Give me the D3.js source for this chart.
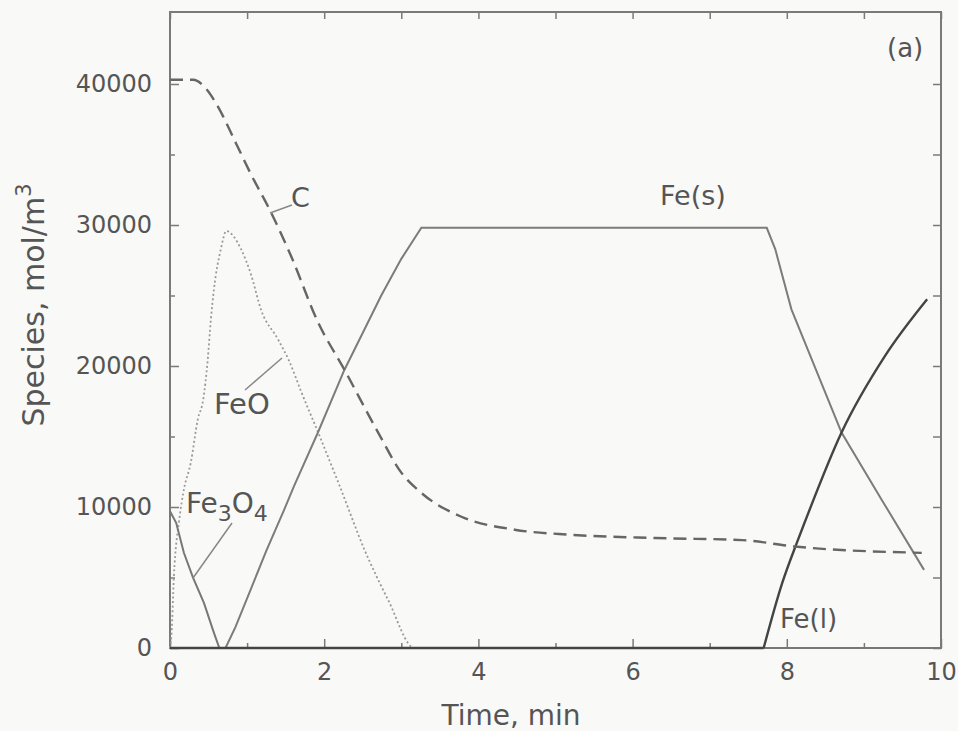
<!DOCTYPE html>
<html>
<head>
<meta charset="utf-8">
<script src="https://cdn.jsdelivr.net/npm/d3@7"></script>
<style>
  html, body { margin: 0; padding: 0; background: #f9f9f8; }
  svg { display: block; }
  text { font-family: "DejaVu Sans", sans-serif; fill: #555; }
</style>
</head>
<body>
<svg id="chart" width="958" height="731"></svg>
<script>
// ---- data ----
const xMajorTicks = [0, 2, 4, 6, 8, 10];
const xMinorTicks = [1, 3, 5, 7, 9];
const yMajorTicks = [0, 10000, 20000, 30000, 40000];
const yMinorTicks = [5000, 15000, 25000, 35000];

const cTime   = [0, 0.3, 0.47, 0.6, 0.86, 1.05, 1.31, 1.57, 1.92, 2.26, 2.7, 3.0, 3.26, 3.78, 4.47, 5.2, 6.3, 7.42, 8.1, 9.75];
const cValues = [40300, 40300, 39650, 38600, 35750, 33600, 30900, 27800, 23100, 19760, 15280, 12440, 11000, 9310, 8390, 8030, 7800, 7650, 7200, 6750];

const feoTime   = [0, 0.02, 0.05, 0.12, 0.18, 0.27, 0.36, 0.43, 0.49, 0.53, 0.57, 0.66, 0.73, 0.92, 1.05, 1.18, 1.4, 1.55, 1.7, 1.92, 2.2, 2.52, 2.83, 3.17, 10];
const feoValues = [0, 1000, 5000, 9100, 11230, 13150, 16200, 17600, 20470, 23300, 25440, 28300, 29570, 28300, 26500, 24000, 21900, 20300, 18200, 15300, 11500, 7000, 3400, 0, 0];

const fe3o4Time   = [0, 0.08, 0.18, 0.3, 0.44, 0.57, 0.64, 10];
const fe3o4Values = [9700, 8880, 6750, 4975, 3200, 1070, 0, 0];

const fesTime   = [0, 0.72, 0.85, 1.05, 1.25, 1.48, 1.61, 1.92, 2.26, 2.74, 3.0, 3.26, 7.74, 7.85, 8.06, 8.71, 9.23, 9.78];
const fesValues = [0, 0, 1500, 4200, 6900, 9800, 11500, 15300, 19700, 25000, 27600, 29800, 29800, 28290, 24020, 15280, 10520, 5540];

const felTime   = [0, 7.7, 7.94, 8.13, 8.23, 8.71, 9.27, 9.82];
const felValues = [0, 0, 4600, 7460, 8880, 15280, 20680, 24730];

// ---- layout ----
const svg = d3.select("#chart");
const mLeft = 170, mRight = 941, mTop = 12, mBottom = 648;
const x = d3.scaleLinear().domain([0, 10]).range([mLeft, mRight]);
const y = d3.scaleLinear().domain([0, 45000]).range([mBottom, mBottom - 45000 * 0.0141]);

// axes with inward ticks
const axisColor = "#7a7a7a";
function styleAxis(g) {
  g.select(".domain").remove();
  g.selectAll(".tick line").attr("stroke", axisColor).attr("stroke-width", 1.5);
  g.selectAll(".tick text").style("font-size", "24px").attr("fill", "#555");
}
svg.append("g").attr("transform", `translate(0,${mBottom})`)
  .call(d3.axisBottom(x).tickValues(xMajorTicks).tickSize(-9).tickPadding(15).tickFormat(d3.format("d")))
  .call(styleAxis);
svg.append("g").attr("transform", `translate(0,${mBottom})`)
  .call(d3.axisBottom(x).tickValues(xMinorTicks).tickSize(-5).tickFormat(""))
  .call(styleAxis);
svg.append("g").attr("transform", `translate(0,${mTop})`)
  .call(d3.axisTop(x).tickValues(xMajorTicks.concat(xMinorTicks)).tickSize(-7).tickFormat(""))
  .call(styleAxis);
svg.append("g").attr("transform", `translate(${mLeft},0)`)
  .call(d3.axisLeft(y).tickValues(yMajorTicks).tickSize(-9).tickPadding(18).tickFormat(d3.format("d")))
  .call(styleAxis);
svg.append("g").attr("transform", `translate(${mLeft},0)`)
  .call(d3.axisLeft(y).tickValues(yMinorTicks).tickSize(-5).tickFormat(""))
  .call(styleAxis);
svg.append("g").attr("transform", `translate(${mRight},0)`)
  .call(d3.axisRight(y).tickValues(yMajorTicks.concat(yMinorTicks)).tickSize(-8).tickFormat(""))
  .call(styleAxis);

// frame
svg.append("rect").attr("x", mLeft).attr("y", mTop)
  .attr("width", mRight - mLeft).attr("height", mBottom - mTop)
  .attr("fill", "none").attr("stroke", axisColor).attr("stroke-width", 2);

// curves
const linear = d3.line().x(d => x(d[0])).y(d => y(d[1]));
const smooth = d3.line().curve(d3.curveMonotoneX).x(d => x(d[0])).y(d => y(d[1]));
function series(t, v) { return t.map((tt, i) => [tt, v[i]]); }

const feo = series(feoTime, feoValues);
svg.append("path").datum(feo).attr("d", smooth)
  .attr("fill", "none").attr("stroke", "#9a9a9a").attr("stroke-width", 1.8).attr("stroke-dasharray", "2,2.5");

svg.append("path").datum(series(fe3o4Time, fe3o4Values)).attr("d", linear)
  .attr("fill", "none").attr("stroke", "#777").attr("stroke-width", 2);

svg.append("path").datum(series(fesTime, fesValues)).attr("d", linear)
  .attr("fill", "none").attr("stroke", "#7c7c7c").attr("stroke-width", 2);

const fel = series(felTime, felValues);
svg.append("path").datum(fel.slice(0, 2)).attr("d", linear)
  .attr("fill", "none").attr("stroke", "#444").attr("stroke-width", 2.4);
svg.append("path").datum(fel.slice(1)).attr("d", smooth)
  .attr("fill", "none").attr("stroke", "#444").attr("stroke-width", 2.4);

svg.append("path").datum(series(cTime, cValues)).attr("d", smooth)
  .attr("fill", "none").attr("stroke", "#666").attr("stroke-width", 2.4).attr("stroke-dasharray", "13,7");

// labels and leader lines
const lab = svg.append("g").attr("fill", "#555");
function label(txt, px, py, size) {
  return lab.append("text").attr("x", px).attr("y", py).style("font-size", size + "px").text(txt);
}
function leader(x1, y1, x2, y2) {
  svg.append("line").attr("x1", x1).attr("y1", y1).attr("x2", x2).attr("y2", y2)
    .attr("stroke", "#888").attr("stroke-width", 1.5);
}
label("C", 291, 207, 27);
leader(270, 213, 292, 205);
label("Fe(s)", 660, 205, 27);
label("FeO", 214, 414, 29);
leader(245, 390, 282, 358);
const f3 = lab.append("text").attr("x", 186).attr("y", 513).style("font-size", "28px");
f3.append("tspan").text("Fe");
f3.append("tspan").attr("dy", 8).style("font-size", "22px").text("3");
f3.append("tspan").attr("dy", -8).text("O");
f3.append("tspan").attr("dy", 8).style("font-size", "22px").text("4");
leader(193, 578, 232, 523);
label("Fe(l)", 780, 628, 26);
label("(a)", 887, 57, 26);

// axis titles
svg.append("text").attr("x", 511).attr("y", 725).attr("text-anchor", "middle")
  .style("font-size", "28px").text("Time, min");
const yt = svg.append("text").attr("transform", "translate(44,305) rotate(-90)")
  .attr("text-anchor", "middle").style("font-size", "30px");
yt.append("tspan").text("Species, mol/m");
yt.append("tspan").attr("dy", -13).style("font-size", "21px").text("3");
</script>
</body>
</html>
